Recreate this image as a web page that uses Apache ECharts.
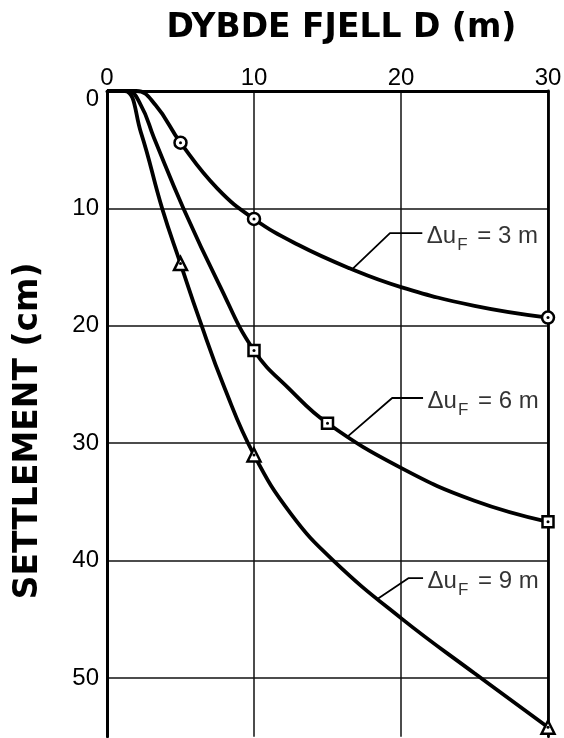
<!DOCTYPE html>
<html>
<head>
<meta charset="utf-8">
<script src="https://cdn.jsdelivr.net/npm/echarts@6/dist/echarts.min.js"></script>
<style>
  html, body { margin: 0; padding: 0; background: #fff; }
  #chart { width: 564px; height: 738px; }
</style>
</head>
<body>
<div id="chart"></div>
<script>
// Depth to bedrock D (m) and settlement (cm) along each drawn curve
const curve3D = [0, 2.0, 3.3, 5.0, 7.5, 10, 13, 16.5, 20, 25, 30];
const curve3S = [0, 0, 1.2, 4.4, 8.3, 10.9, 13.1, 15.1, 16.7, 18.3, 19.3];

const curve6D = [0, 1.4, 2.3, 3.2, 5.2, 7.6, 10, 12.5, 15, 20, 25, 30];
const curve6S = [0, 0, 1.2, 4.0, 10, 16.4, 22.1, 25.5, 28.3, 32.1, 34.9, 36.7];

const curve9D = [0, 1.2, 2.3, 3.75, 5.0, 6.3, 8.0, 10, 12.5, 15.4, 20, 25, 30];
const curve9S = [0, 0, 3.5, 10, 14.7, 19.5, 25.3, 31.0, 36.0, 40.0, 44.9, 49.6, 54.2];

// Computed points (markers)
const points3D = [5, 10, 30];
const points3S = [4.4, 10.9, 19.3];
const points6D = [10, 15, 30];
const points6S = [22.1, 28.3, 36.7];
const points9D = [5, 10, 30];
const points9S = [14.7, 31.0, 54.2];

// Curve labels: pore pressure change Δu_F (m)
const labelValues = ['3', '6', '9'];
// Leader lines: point on curve, elbow, end (data units)
const leader3 = [[16.67, 15.2], [19.25, 12.1], [21.45, 12.1]];
const leader6 = [[16.4, 29.4], [19.4, 26.15], [21.5, 26.15]];
const leader9 = [[18.37, 43.3], [20.5, 41.5], [21.5, 41.5]];

const xTicks = [0, 10, 20, 30];
const yTicks = [0, 10, 20, 30, 40, 50];

const zip = (xs, ys) => xs.map((x, i) => [x, ys[i]]);

const FONT = 'Liberation Sans';
const TITLE_FONT = 'DejaVu Sans';
const INK = '#000';

function curveSeries(xs, ys) {
  return {
    type: 'line',
    data: zip(xs, ys),
    smooth: 0.45,
    showSymbol: false,
    symbol: 'none',
    lineStyle: { color: INK, width: 3.8 },
    clip: false,
    silent: true,
    z: 3
  };
}

function markerSeries(xs, ys, symbol, size) {
  return [{
    type: 'scatter',
    data: zip(xs, ys),
    symbol: symbol,
    symbolSize: size,
    itemStyle: { color: '#fff', borderColor: INK, borderWidth: 2.5, opacity: 1 },
    clip: false,
    silent: true,
    z: 5
  }, {
    type: 'scatter',
    data: zip(xs, ys),
    symbol: 'circle',
    symbolSize: 3,
    itemStyle: { color: INK, opacity: 1 },
    clip: false,
    silent: true,
    z: 6
  }];
}

function leaderSeries(pts, value) {
  return [{
    type: 'line',
    data: pts,
    showSymbol: false,
    symbol: 'none',
    lineStyle: { color: INK, width: 1.8 },
    silent: true,
    z: 2
  }, {
    type: 'scatter',
    data: [pts[pts.length - 1]],
    symbolSize: 1,
    itemStyle: { color: 'rgba(0,0,0,0)' },
    silent: true,
    label: {
      show: true,
      position: 'right',
      distance: 4,
      offset: [0, 3],
      color: INK,
      formatter: '{a|Δu}{s|F}{a| = ' + value + ' m}',
      rich: {
        a: { fontFamily: FONT, fontSize: 24, color: INK, lineHeight: 36 },
        s: { fontFamily: FONT, fontSize: 17, color: INK, verticalAlign: 'bottom', padding: [0, 3, 0, 1] }
      }
    },
    z: 4
  }];
}

const chart = echarts.init(document.getElementById('chart'), null, { renderer: 'canvas' });

chart.setOption({
  backgroundColor: '#fff',
  animation: false,
  grid: {
    left: 107, top: 91, width: 441, height: 645.7,
    containLabel: false, outerBoundsMode: 'none'
  },
  xAxis: {
    type: 'value',
    position: 'top',
    min: xTicks[0], max: xTicks[xTicks.length - 1], interval: 10,
    name: 'DYBDE FJELL D (m)',
    nameLocation: 'middle',
    nameGap: 46,
    nameTextStyle: {
      fontFamily: TITLE_FONT, fontWeight: 'bold', fontSize: 33, color: INK,
      padding: [0, 0, 0, 28]
    },
    axisLine: { show: true, lineStyle: { color: INK, width: 3 } },
    axisTick: { show: false },
    axisLabel: { fontFamily: FONT, fontSize: 24, color: INK, margin: 1 },
    splitLine: { show: true, lineStyle: { color: '#111', width: 1.5 } }
  },
  yAxis: [{
    type: 'value',
    inverse: true,
    position: 'left',
    min: yTicks[0], max: 55, interval: 10,
    name: 'SETTLEMENT (cm)',
    nameLocation: 'middle',
    nameGap: 62,
    nameTextStyle: {
      fontFamily: TITLE_FONT, fontWeight: 'bold', fontSize: 33, color: INK,
      padding: [0, 34, 0, 0]
    },
    axisLine: { show: true, lineStyle: { color: INK, width: 3 } },
    axisTick: { show: false },
    axisLabel: {
      fontFamily: FONT, fontSize: 24, color: INK, margin: 8,
      formatter: v => (yTicks.indexOf(v) < 0 ? '' : (v === 0 ? '{z|0}' : String(v))),
      rich: { z: { fontFamily: FONT, fontSize: 24, color: INK, padding: [16, 0, 0, 0] } }
    },
    splitLine: {
      show: true,
      lineStyle: { color: ['#111', '#111', '#111', '#111', '#111', '#111', 'rgba(0,0,0,0)'], width: 1.5 }
    }
  }, {
    type: 'value',
    inverse: true,
    position: 'right',
    min: 0, max: 55, interval: 10,
    axisLine: { show: true, lineStyle: { color: INK, width: 2.8 } },
    axisTick: { show: false },
    axisLabel: { show: false },
    splitLine: { show: false }
  }],
  series: [
    curveSeries(curve3D, curve3S),
    curveSeries(curve6D, curve6S),
    curveSeries(curve9D, curve9S),
    ...markerSeries(points3D, points3S, 'circle', 12),
    ...markerSeries(points6D, points6S, 'rect', 11),
    ...markerSeries(points9D, points9S, 'triangle', 13),
    ...leaderSeries(leader3, labelValues[0]),
    ...leaderSeries(leader6, labelValues[1]),
    ...leaderSeries(leader9, labelValues[2])
  ]
});
</script>
</body>
</html>
